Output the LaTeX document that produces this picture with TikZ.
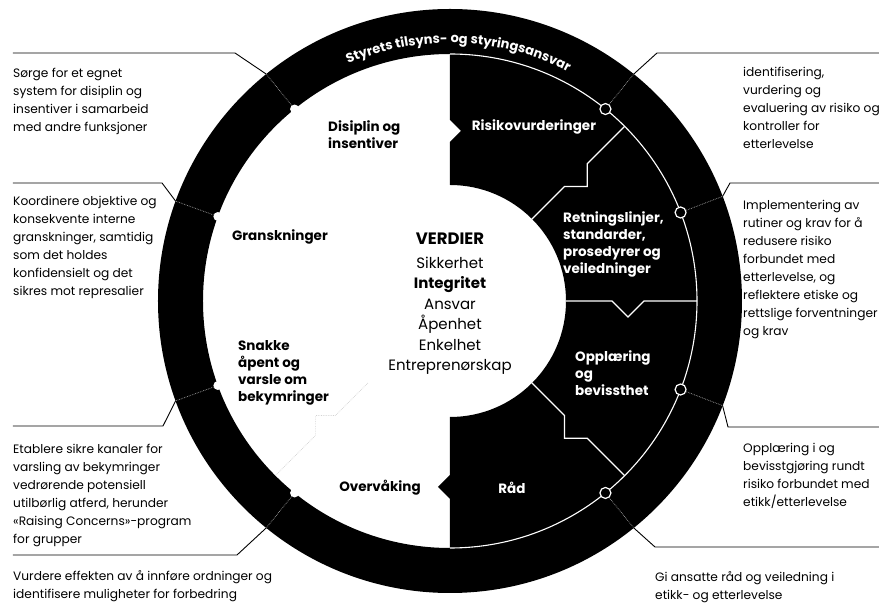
\documentclass[tikz,border=0pt]{standalone}
\usepackage{fontspec}
\setmainfont{Poppins}
\usetikzlibrary{calc,decorations.text}

\tikzset{
  note/.style={anchor=north west, align=left, inner sep=0pt, font=\fontsize{12.2}{18}\selectfont},
  seg/.style={align=left, inner sep=0pt, font=\fontsize{13.5}{17}\selectfont\bfseries},
  callout/.style={line width=0.9pt},
  ringdots/.style={densely dotted, gray!70, line width=0.7pt},
  divider/.style={white, line width=1.3pt},
  rmark/.style={circle, draw=white, fill=black, line width=1.2pt, minimum size=11pt, inner sep=0pt},
  lmark/.style={circle, fill=white, minimum size=9pt, inner sep=0pt},
}

\begin{document}
\begin{tikzpicture}[x=1pt, y=1pt]
  \useasboundingbox (-450,-303) rectangle (429,301);

  % outer ring
  \fill[even odd rule] (0,0) circle (292) (0,0) circle (247);
  % black half on the right
  \fill (0,247) -- (0,181) -- (11,170) -- (0,159) -- (0,116)
     arc[start angle=90, end angle=-90, radius=116]
     -- (0,-174) -- (-12,-186) -- (0,-198) -- (0,-247)
     arc[start angle=-90, end angle=90, radius=247] -- cycle;
  \draw[divider, line width=1.1pt] (90:247) arc[start angle=90, end angle=-90, radius=247];

  % dividers between the segments
  \draw[divider] (45:116) -- (45:162) -- ($(45:178)+(-45:16)$) -- (45:194) -- (45:247);
  \draw[divider] (0:116) -- (0:162) -- ($(0:178)+(-90:16)$) -- (0:194) -- (0:247);
  \draw[divider] (-45:116) -- (-45:162) -- ($(-45:178)+(-135:16)$) -- (-45:194) -- (-45:247);
  \draw[ringdots, gray!35] (225:116) -- (225:162) -- ($(225:176)+(135:14)$) -- (225:190) -- (225:247);

  % ring title
  \path[decorate, decoration={text along path, text align=center, text color=white,
      text={|\fontsize{13}{13}\selectfont\bfseries|Styrets tilsyns- og styringsansvar}}]
      (178:258) arc[start angle=178, end angle=-2, radius=258];

  % markers and callouts, right
  \node[rmark] (m1) at (51:247) {};
  \node[rmark] (m2) at (21:247) {};
  \node[rmark] (m3) at (-21:247) {};
  \node[rmark] (m4) at (-51:247) {};
  \coordinate (o1) at (51:292);
  \coordinate (o2) at (21:292);
  \coordinate (o3) at (-21:292);
  \coordinate (o4) at (-51:292);
  \coordinate (e1) at (207,248);
  \coordinate (e2) at (280,118);
  \coordinate (e3) at (278,-126);
  \coordinate (e4) at (205,-246);
  \coordinate (h1) at (429,248);
  \coordinate (h2) at (429,118);
  \coordinate (h3) at (429,-126);
  \coordinate (h4) at (429,-246);
  \draw[ringdots] (m1) -- (o1);
  \draw[ringdots] (m2) -- (o2);
  \draw[ringdots] (m3) -- (o3);
  \draw[ringdots] (m4) -- (o4);
  \draw[callout] (o1) -- (e1) -- (h1);
  \draw[callout] (o2) -- (e2) -- (h2);
  \draw[callout] (o3) -- (e3) -- (h3);
  \draw[callout] (o4) -- (e4) -- (h4);

  % markers and callouts, left
  \node[lmark] (m5) at (129:247) {};
  \node[lmark] (m6) at (160:247) {};
  \node[lmark] (m7) at (200:247) {};
  \node[lmark] (m8) at (231:247) {};
  \coordinate (o5) at (129:292);
  \coordinate (o6) at (160:292);
  \coordinate (o7) at (200:292);
  \coordinate (o8) at (231:292);
  \coordinate (e5) at (-215,248);
  \coordinate (e6) at (-288,118);
  \coordinate (e7) at (-287,-125);
  \coordinate (e8) at (-213,-254);
  \coordinate (h5) at (-437,248);
  \coordinate (h6) at (-437,118);
  \coordinate (h7) at (-437,-125);
  \coordinate (h8) at (-437,-254);
  \draw[ringdots] (m5) -- (o5);
  \draw[ringdots] (m6) -- (o6);
  \draw[ringdots] (m7) -- (o7);
  \draw[ringdots] (m8) -- (o8);
  \draw[callout] (o5) -- (e5) -- (h5);
  \draw[callout] (o6) -- (e6) -- (h6);
  \draw[callout] (o7) -- (e7) -- (h7);
  \draw[callout] (o8) -- (e8) -- (h8);

  % centre
  \node[anchor=north, align=center, inner sep=0pt, font=\fontsize{15}{20.5}\selectfont] (verdier) at (0,68)
     {{\fontsize{16.5}{20}\selectfont\bfseries VERDIER}\\[3pt]Sikkerhet\\\textbf{Integritet}\\Ansvar\\Åpenhet\\Enkelhet\\Entreprenørskap};

  % segment labels
  \node[seg, anchor=north west] (disiplin) at (-122,181) {Disiplin og\\insentiver};
  \node[seg] (gransk) at (-170,64) {Granskninger};
  \node[seg, anchor=north west] (snakke) at (-212,-39) {Snakke\\åpent og\\varsle om\\bekymringer};
  \node[seg] (overv) at (-70,-187) {Overvåking};
  \node[seg, white] (raad) at (62,-187) {Råd};
  \node[seg, white] (risiko) at (84,174) {Risikovurderinger};
  \node[seg, white, anchor=north west] (retn) at (113,90) {Retningslinjer,\\standarder,\\prosedyrer og\\veiledninger};
  \node[seg, white, anchor=north west] (opplb) at (125,-49) {Opplæring\\og\\bevissthet};

  % callout texts
  \node[note] (ident) at (293,234) {identifisering,\\vurdering og\\evaluering av risiko og\\kontroller for\\etterlevelse};
  \node[note] (impl) at (293,101) {Implementering av\\rutiner og krav for å\\redusere risiko\\forbundet med\\etterlevelse, og\\reflektere etiske og\\rettslige forventninger\\og krav};
  \node[note] (oppl) at (293,-142) {Opplæring i og\\bevisstgjøring rundt\\risiko forbundet med\\etikk/etterlevelse};
  \node[note] (gi) at (205,-270) {Gi ansatte råd og veiledning i\\etikk- og etterlevelse};
  \node[note] (sorge) at (-437,233) {Sørge for et egnet\\system for disiplin og\\insentiver i samarbeid\\med andre funksjoner};
  \node[note] (koord) at (-437,105) {Koordinere objektive og\\konsekvente interne\\granskninger, samtidig\\som det holdes\\konfidensielt og det\\sikres mot represalier};
  \node[note] (etabl) at (-437,-143) {Etablere sikre kanaler for\\varsling av bekymringer\\vedrørende potensiell\\utilbørlig atferd, herunder\\«Raising Concerns»-program\\for grupper};
  \node[note] (vurd) at (-437,-269) {Vurdere effekten av å innføre ordninger og\\identifisere muligheter for forbedring};
\end{tikzpicture}
\end{document}
